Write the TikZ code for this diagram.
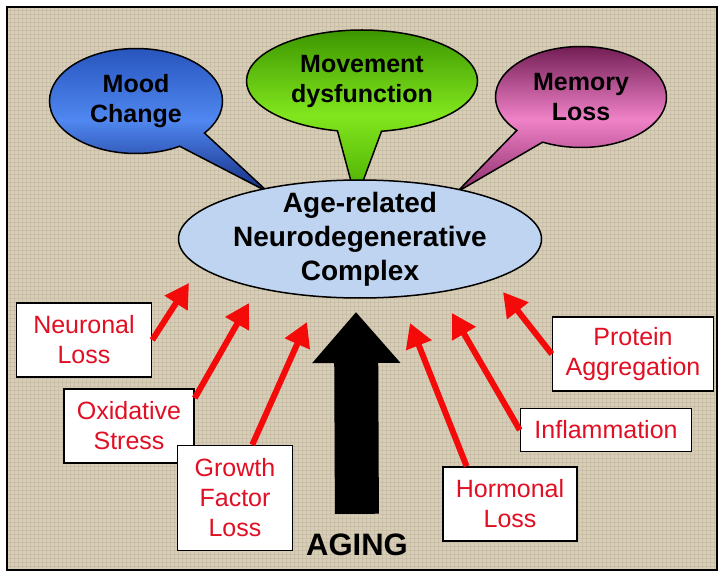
\documentclass[tikz,border=0pt]{standalone}
\usepackage{fontspec}
\setmainfont{Liberation Sans}
\usetikzlibrary{shapes.geometric,shapes.callouts,arrows.meta}

\definecolor{bgbeige}{RGB}{216,205,181}
\definecolor{moodtop}{RGB}{40,85,190}
\definecolor{moodmid}{RGB}{80,135,240}
\definecolor{moodbot}{RGB}{20,45,130}
\definecolor{movetop}{RGB}{60,150,0}
\definecolor{movemid}{RGB}{130,230,30}
\definecolor{movebot}{RGB}{70,170,0}
\definecolor{memtop}{RGB}{115,30,85}
\definecolor{memmid}{RGB}{240,130,200}
\definecolor{membot}{RGB}{140,45,105}
\definecolor{complexblue}{RGB}{190,212,240}
\definecolor{arrowred}{RGB}{245,10,10}
\definecolor{factred}{RGB}{225,15,35}

\begin{document}
\begin{tikzpicture}[x=1pt,y=-1pt,
	weave/.style={draw=bgbeige!75!black,line width=0.8pt,opacity=0.22},
	bubble/.style={ellipse callout,draw=black,line width=1.5pt,inner sep=0pt,callout pointer arc=22,align=center,font=\fontsize{25}{30}\selectfont\bfseries},
	factor/.style={draw=black,line width=1.5pt,fill=white,text=factred,align=center,inner xsep=11pt,inner ysep=8pt,minimum height=74pt,font=\fontsize{25}{30}\selectfont},
	push/.style={draw=arrowred,line width=6pt,-{Triangle[length=24pt,width=26pt]}}]

	\useasboundingbox (0,0) rectangle (725,577);
	\fill[white] (0,0) rectangle (725,577);
	\fill[bgbeige] (7,7) rectangle (717,570);
	\foreach \x in {10,14,...,714}
		\draw[weave] (\x,7) -- (\x,570);
	\foreach \y in {10,14,...,566}
		\draw[weave] (7,\y) -- (717,\y);
	\draw[line width=1.5pt] (7,7) rectangle (717,570);

	\coordinate (moodtip) at (268,192);
	\coordinate (movetip) at (356,200);
	\coordinate (memtip) at (457,192);

	\node[bubble,top color=moodtop,bottom color=moodbot,middle color=moodmid,minimum width=173pt,minimum height=105pt,callout absolute pointer=(moodtip)] (mood) at (136,101) {Mood\\Change};
	\node[bubble,top color=movetop,bottom color=movebot,middle color=movemid,minimum width=231pt,minimum height=102pt,callout absolute pointer=(movetip)] (movement) at (362,81) {Movement\\dysfunction};
	\node[bubble,top color=memtop,bottom color=membot,middle color=memmid,minimum width=171pt,minimum height=101pt,callout absolute pointer=(memtip)] (memory) at (581,97) {Memory\\Loss};

	\node[ellipse,draw=black,line width=1.5pt,fill=complexblue,minimum width=363pt,minimum height=118pt] (complex) at (360,239) {};
	\node[align=center,font=\fontsize{28}{34}\selectfont\bfseries] (complexlabel) at (complex) {Age-related\\Neurodegenerative\\Complex};

	\node[factor,minimum width=135pt] (neuronal) at (84,340) {Neuronal\\Loss};
	\node[factor,minimum width=130pt] (oxidative) at (129,426) {Oxidative\\Stress};
	\node[factor,minimum width=115pt,minimum height=105pt] (growth) at (235,498) {Growth\\Factor\\Loss};
	\node[factor,minimum width=134pt] (hormonal) at (510,504) {Hormonal\\Loss};
	\node[factor,minimum width=171pt,minimum height=43pt] (inflammation) at (606,430) {Inflammation};
	\node[factor,minimum width=161pt] (protein) at (633,354) {Protein\\Aggregation};

	\coordinate (neurtip) at (189,283);
	\coordinate (oxitip) at (249,303);
	\coordinate (growtip) at (307,322);
	\coordinate (hormtip) at (410,323);
	\coordinate (inflamtip) at (452,313);
	\coordinate (prottip) at (503,292);

	\draw[push] (neuronal.east) -- (neurtip);
	\draw[push] (oxidative.23) -- (oxitip);
	\draw[push] (growth.72) -- (growtip);
	\draw[push] (hormonal.139) -- (hormtip);
	\draw[push] (inflammation.west) -- (inflamtip);
	\draw[push] (protein.west) -- (prottip);

	\node[inner sep=0pt,font=\fontsize{31}{37}\selectfont\bfseries] (aging) at (357,545) {AGING};
	\coordinate (agingtip) at (356,312);
	\draw[line width=44pt,shorten <=20pt,-{Triangle[length=51pt,width=85pt]}] (aging.north) -- (agingtip);
\end{tikzpicture}
\end{document}
